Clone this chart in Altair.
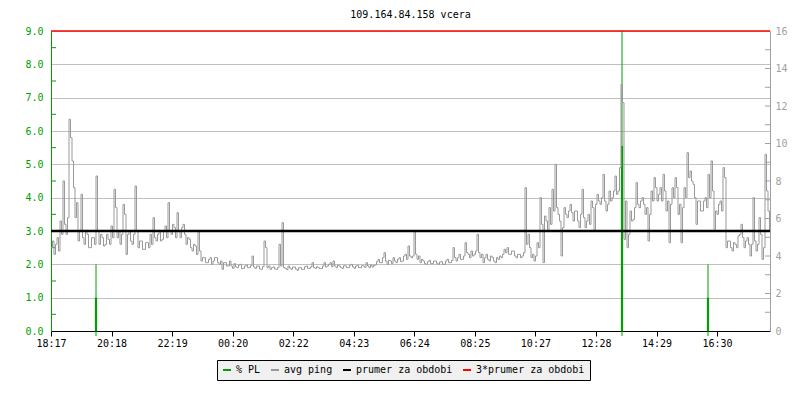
import json
import altair as alt
import pandas as pd

# ---------------- data ----------------
title_text = "109.164.84.158 vcera"
step_min = 3  # minutes between ping samples

ping_ms = [
    # 18:17 ->
    2.5, 2.7, 2.3, 2.6, 2.8, 2.4, 3.3, 2.9, 4.5, 3.2,
    2.9, 3.4, 6.35, 5.8, 5.1, 4.3, 3.4, 3.85, 2.7, 3.0,
    4.1, 2.8, 2.6, 3.0, 2.9, 2.5, 2.5, 2.8, 2.8, 2.6,
    4.65, 3.0, 2.6, 2.9, 2.8, 2.55, 2.6, 2.9, 2.75, 2.6,
    3.15, 2.8, 4.25, 3.7, 2.8, 3.0, 2.6, 2.9, 3.8, 3.5,
    2.3, 2.9, 3.0, 2.7, 2.6, 2.9, 4.35, 3.0, 2.5, 2.7,
    2.7, 2.45, 2.45, 2.65, 2.65, 2.5, 2.9, 2.6, 3.4, 2.8,
    2.7, 2.9, 3.0, 2.7, 2.75, 3.0, 3.15, 2.8, 3.85, 3.0,
    2.9, 3.2, 3.1, 2.8, 3.55, 3.0, 2.8, 3.1, 3.2, 2.9,
    2.6, 2.8, 2.75, 2.5, 2.4, 2.6, 2.55, 2.3, 3.0, 2.4,
    2.1, 2.2, 2.2, 2.05, 2.05, 2.15, 2.2, 2.0, 2.1, 2.2,
    2.2, 2.05, 2.0, 2.1, 1.85, 2.05, 2.05, 1.95, 1.95, 2.1,
    # ~00:17 ->
    1.95, 1.88, 2.02, 1.92, 1.9, 1.98, 2.0, 1.87, 1.88, 1.95,
    1.98, 1.9, 1.9, 1.96, 2.25, 1.92, 1.88, 1.95, 1.95, 1.86,
    1.85, 1.93, 2.7, 2.5, 1.9, 1.95, 1.85, 1.9, 1.92, 1.86,
    1.85, 1.9, 2.6, 1.95, 3.25, 1.9, 1.88, 1.84, 1.95, 1.89,
    1.85, 1.92, 1.92, 1.86, 1.82, 1.9, 1.9, 1.85, 1.85, 1.93,
    1.95, 1.88, 1.88, 1.92, 2.05, 1.9, 1.88, 1.93, 1.9, 1.87,
    1.87, 1.95, 2.05, 1.92, 1.95, 2.0, 2.05, 1.93, 2.1, 1.95,
    1.9, 1.98, 1.95, 1.9, 1.88, 1.96, 1.95, 1.9, 1.9, 1.97,
    2.0, 1.92, 1.88, 1.95, 1.97, 1.9, 1.9, 1.96, 1.95, 1.91,
    2.05, 1.95, 1.9, 1.98, 1.92, 1.97, 1.98, 2.08, 2.15, 2.05,
    2.05, 2.2, 2.35, 2.1, 2.0, 2.12, 2.1, 2.02, 2.2, 2.1,
    2.05, 2.15, 2.2, 2.08, 2.1, 2.25, 2.3, 2.15, 2.55, 2.25,
    # ~06:17 ->
    2.2, 2.25, 3.0, 2.3, 2.15, 2.25, 2.05, 2.15, 2.1, 2.02,
    2.0, 2.08, 2.12, 2.02, 2.02, 2.1, 2.1, 2.03, 2.0, 2.07,
    2.08, 2.0, 2.0, 2.1, 2.15, 2.05, 2.05, 2.12, 2.5, 2.2,
    2.1, 2.2, 2.3, 2.15, 2.15, 2.25, 2.65, 2.35, 2.3, 2.2,
    2.4, 2.25, 2.3, 2.4, 2.9, 2.35, 2.2, 2.3, 2.05, 2.2,
    2.3, 2.15, 2.1, 2.25, 2.2, 2.1, 2.05, 2.2, 2.15, 2.25,
    2.2, 2.3, 2.45, 2.35, 2.5, 2.3, 2.3, 2.4, 2.4, 2.25,
    2.2, 2.3, 2.3, 2.2, 2.25, 2.35, 4.3, 2.6, 2.9, 2.5,
    2.2, 2.3, 2.1, 2.25, 2.65, 2.5, 4.0, 3.2, 2.05, 3.45,
    3.3, 3.0, 3.7, 3.2, 4.25, 3.6, 5.0, 3.7, 3.5, 3.3,
    2.25, 3.1, 3.7, 3.5, 3.4, 3.6, 3.8, 3.55, 3.3, 3.6,
    3.6, 3.3, 3.1, 3.5, 4.25, 3.4, 3.1, 3.3, 3.5, 3.2,
    # ~12:17 ->
    3.9, 3.7, 3.0, 3.8, 4.1, 3.9, 3.8, 4.0, 4.7, 3.9,
    3.6, 3.8, 4.2, 3.9, 4.0, 4.2, 4.65, 4.1, 4.2, 4.9,
    7.4, 6.85, 2.75, 3.9, 2.5, 2.9, 3.6, 3.3, 3.35, 3.7,
    4.45, 3.8, 3.7, 3.9, 4.0, 3.8, 3.5, 3.7, 2.7, 3.5,
    4.2, 3.9, 4.6, 4.3, 3.9, 4.1, 4.3, 3.9, 4.7, 4.2,
    3.6, 3.9, 2.65, 3.8, 4.3, 4.0, 4.6, 4.3, 3.5, 3.8,
    2.65, 3.7, 4.3, 4.0, 5.35, 4.6, 4.8, 4.5, 4.4, 4.0,
    3.2, 3.9, 3.9, 3.6, 3.6, 3.9, 4.0, 3.7, 4.7, 4.0,
    5.1, 4.2, 3.05, 3.6, 3.5, 3.8, 3.9, 3.6, 4.9, 4.6,
    2.5, 2.7, 2.7, 2.5, 2.4, 2.65, 2.6, 2.5, 2.85, 2.9,
    3.2, 2.8, 2.5, 2.7, 2.8, 2.6, 2.25, 2.6, 4.0, 2.7,
    2.4, 2.6, 3.4, 2.9, 2.15, 2.5, 5.3, 4.2, 3.6, 3.0,
]

pl_minutes = [90, 1142, 1314]
pl_peak = [2.0, 9.0, 2.0]
pl_base = [1.0, 5.55, 1.0]

avg_ping = 3.0

x_tick_labels = ["18:17", "20:18", "22:19", "00:20", "02:22", "04:23",
                 "06:24", "08:25", "10:27", "12:28", "14:29", "16:30"]
x_tick_step = 121.1
x_end = 1438

left_ticks = [0, 1, 2, 3, 4, 5, 6, 7, 8, 9]
left_minor = [0.5, 1.5, 2.5, 3.5, 4.5, 5.5, 6.5, 7.5, 8.5]
right_labels = [0, 2, 4, 6, 8, 10, 12, 14, 16]
right_minor = list(range(1, 16))

series_names = ["% PL", "avg ping", "prumer za obdobi", "3*prumer za obdobi"]
series_colors = ["#00a000", "#999999", "#000000", "#ff0000"]

# ---------------- tables ----------------
ping_df = pd.DataFrame({"t": [i * step_min for i in range(len(ping_ms))], "v": ping_ms,
                        "s": series_names[1]})
pl_df = pd.DataFrame({"t": pl_minutes, "peak": pl_peak, "base": pl_base, "s": series_names[0]})
avg_df = pd.DataFrame({"v": [avg_ping], "s": [series_names[2]]})
red_df = pd.DataFrame({"v": [3 * avg_ping], "s": [series_names[3]]})
lminor_df = pd.DataFrame({"v": left_minor, "t0": 0, "t1": 10})
rminor_df = pd.DataFrame({"v": right_minor, "t0": x_end - 10, "t1": x_end})

FONT = "DejaVu Sans Mono"
GREEN = "#00a000"
GREY = "#a0a0a0"

color_scale = alt.Scale(domain=series_names, range=series_colors)
legend = alt.Legend(
    orient="none", legendX=166, legendY=329, direction="horizontal", columns=4,
    title=None, symbolType="stroke", symbolStrokeWidth=2, symbolSize=64,
    labelFont=FONT, labelFontSize=10, labelColor="#000000", labelOffset=4,
    columnPadding=6, padding=5, fillColor="#f0f0f0", strokeColor="#000000",
)
C = alt.Color("s:N", scale=color_scale, legend=legend)

x_scale = alt.Scale(domain=[0, x_end], nice=False, zero=False)
x_axis = alt.Axis(
    values=[i * x_tick_step for i in range(len(x_tick_labels))],
    labelExpr=json.dumps(x_tick_labels) + "[round(datum.value / " + str(x_tick_step) + ")]",
    labelFlush=False, labelFont=FONT, labelFontSize=10, labelColor="#000000",
    tickColor="#000000", tickSize=5, domainColor="#000000", grid=False, title=None,
    labelPadding=2,
)
y_scale = alt.Scale(domain=[0, 9], nice=False, zero=True)
y_axis = alt.Axis(
    values=left_ticks, format=".1f", labelFont=FONT, labelFontSize=10,
    labelColor=GREEN, domainColor=GREEN, ticks=False, tickSize=0, labelPadding=8,
    grid=True, gridColor="#c0c0c0", gridWidth=1, title=None,
)

X = alt.X("t:Q", scale=x_scale, axis=x_axis)

minor_l = alt.Chart(lminor_df).mark_rule(color=GREEN, strokeWidth=1).encode(
    x=alt.X("t0:Q", scale=x_scale, axis=x_axis), x2="t1:Q",
    y=alt.Y("v:Q", scale=y_scale, axis=y_axis),
)

pl_thin = alt.Chart(pl_df).mark_rule(strokeWidth=1).encode(
    x=X, y=alt.Y("peak:Q", scale=y_scale, axis=y_axis), y2=alt.datum(-0.15), color=C,
)
pl_thick = alt.Chart(pl_df).mark_rule(strokeWidth=2.2).encode(
    x=X, y=alt.Y("base:Q", scale=y_scale, axis=y_axis), y2=alt.datum(0), color=C,
)

ping = alt.Chart(ping_df).mark_line(interpolate="step-after", strokeWidth=1).encode(
    x=X, y=alt.Y("v:Q", scale=y_scale, axis=y_axis), color=C,
)

avg_rule = alt.Chart(avg_df).mark_rule(strokeWidth=2.5).encode(
    y=alt.Y("v:Q", scale=y_scale, axis=y_axis), color=C,
)
red_rule = alt.Chart(red_df).mark_rule(strokeWidth=1.5).encode(
    y=alt.Y("v:Q", scale=y_scale, axis=y_axis), color=C,
)

left = alt.layer(minor_l, pl_thin, pl_thick, ping, avg_rule, red_rule)

right = alt.Chart(rminor_df).mark_rule(color=GREY, strokeWidth=1).encode(
    x=alt.X("t0:Q", scale=x_scale, axis=x_axis), x2="t1:Q",
    y=alt.Y("v:Q", scale=alt.Scale(domain=[0, 16], nice=False, zero=True),
            axis=alt.Axis(orient="right", values=right_labels, format="d",
                          labelFont=FONT, labelFontSize=10, labelColor=GREY,
                          domainColor=GREY, ticks=False, tickSize=0, labelPadding=5,
                          grid=False, title=None)),
)

chart = alt.layer(left, right).resolve_scale(y="independent").properties(
    width=719, height=300,
    title=alt.TitleParams(title_text, font=FONT, fontSize=10, fontWeight="normal",
                          color="#000000", anchor="middle", offset=6),
    autosize=alt.AutoSizeParams(type="none"),
    padding={"left": 43, "top": 23, "right": 22, "bottom": 61},
).configure_view(stroke=None).configure(background="#ffffff")

chart.save("out.html", embed_options={"renderer": "svg", "actions": False})
